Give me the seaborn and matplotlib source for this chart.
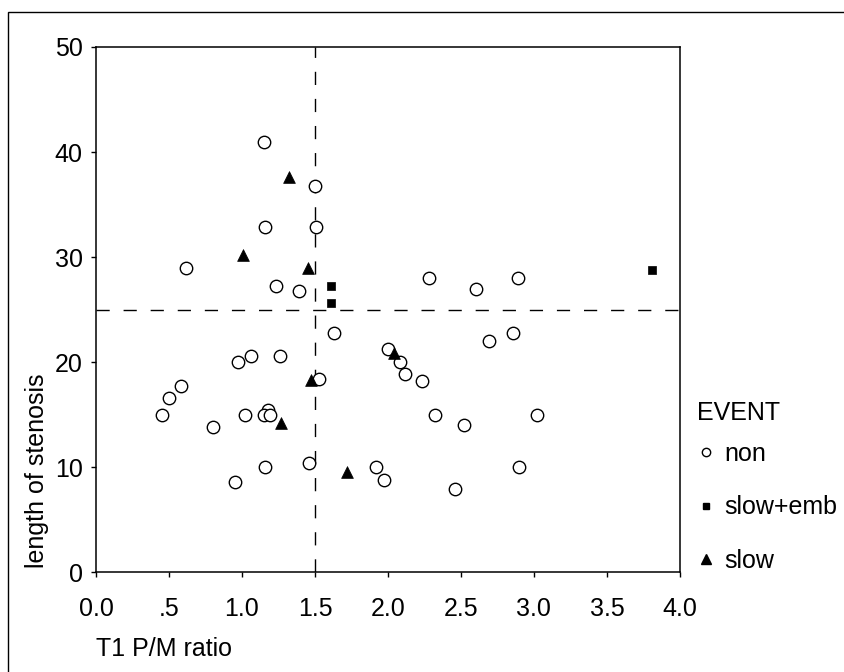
import pandas as pd
import seaborn as sns
import matplotlib.pyplot as plt
from matplotlib.lines import Line2D
from matplotlib.patches import Rectangle

# valores
non_x = [1.15, 1.50, 1.16, 1.51, 0.62, 1.23, 1.39, 1.63, 2.28, 2.60, 2.89,
         0.97, 1.06, 1.26, 1.53, 0.58, 0.50, 0.45, 1.02, 1.18, 1.15, 1.19,
         0.80, 1.16, 1.46, 0.95, 1.92, 1.97, 2.00, 2.08, 2.12, 2.23, 2.69,
         2.86, 2.32, 2.52, 3.02, 2.90, 2.46]
non_y = [41.0, 36.8, 32.9, 32.9, 29.0, 27.3, 26.8, 22.8, 28.0, 27.0, 28.0,
         20.0, 20.6, 20.6, 18.4, 17.7, 16.6, 15.0, 15.0, 15.5, 15.0, 15.0,
         13.8, 10.0, 10.4, 8.6, 10.0, 8.8, 21.3, 20.0, 18.9, 18.2, 22.0,
         22.8, 15.0, 14.0, 15.0, 10.0, 7.9]
emb_x = [1.61, 1.61, 3.81]
emb_y = [27.3, 25.6, 28.8]
slow_x = [1.32, 1.01, 1.45, 1.47, 1.27, 1.72, 2.04]
slow_y = [37.6, 30.2, 29.0, 18.3, 14.2, 9.6, 20.9]

eventos = ['non', 'slow+emb', 'slow']
x_ticks = [0.0, 0.5, 1.0, 1.5, 2.0, 2.5, 3.0, 3.5, 4.0]
x_tick_labels = ['0.0', '.5', '1.0', '1.5', '2.0', '2.5', '3.0', '3.5', '4.0']
y_ticks = [0, 10, 20, 30, 40, 50]
corte_x = 1.5
corte_y = 25

dados = pd.DataFrame({
    'ratio': non_x + emb_x + slow_x,
    'length': non_y + emb_y + slow_y,
    'EVENT': [eventos[0]] * len(non_x) + [eventos[1]] * len(emb_x) + [eventos[2]] * len(slow_x),
})

sns.set_style('ticks', {'text.color': 'black', 'axes.labelcolor': 'black',
                        'xtick.color': 'black', 'ytick.color': 'black',
                        'axes.edgecolor': 'black'})
plt.rcParams['font.family'] = ['Liberation Sans', 'DejaVu Sans']
fs = 18

fig = plt.figure(figsize=(8.44, 6.72), dpi=100)
ax = fig.add_axes([0.1137, 0.1481, 0.6919, 0.7820])

estilos = {
    'non': dict(marker='o', s=80, facecolor='white', edgecolor='black', linewidth=1.0),
    'slow+emb': dict(marker='s', s=34, color='black', edgecolor='black', linewidth=0.5),
    'slow': dict(marker='^', s=72, color='black', edgecolor='black', linewidth=0.5),
}
for ev in eventos:
    sns.scatterplot(x='ratio', y='length', data=dados[dados.EVENT == ev], ax=ax,
                    legend=False, zorder=3, **estilos[ev])

ax.axvline(corte_x, color='black', lw=1.0, ls=(0, (9.5, 10)), zorder=2)
ax.axhline(corte_y, color='black', lw=1.0, ls=(0, (9.5, 10)), zorder=2)

ax.set_xlim(0, 4)
ax.set_ylim(0, 50)
ax.set_xticks(x_ticks)
ax.set_xticklabels(x_tick_labels)
ax.set_yticks(y_ticks)
for s in ax.spines.values():
    s.set_linewidth(1.1)
    s.set_color('black')
ax.tick_params(axis='x', direction='out', length=3.5, width=1, pad=14, labelsize=fs)
ax.tick_params(axis='y', direction='out', length=3.5, width=1, pad=6, labelsize=fs)

ax.set_xlabel('T1 P/M ratio', fontsize=fs, ha='left', va='center')
ax.xaxis.set_label_coords(0.0, -0.146)
ax.set_ylabel('length of stenosis', fontsize=fs, ha='center', va='center')
ax.yaxis.set_label_coords(-0.101, 0.194)

# legenda
fig.text(697 / 844, (672 - 413) / 672, 'EVENT', fontsize=fs, va='center', ha='left')
handles = [
    Line2D([], [], ls='none', marker='o', ms=6, mfc='white', mec='black', mew=1.0),
    Line2D([], [], ls='none', marker='s', ms=4.5, mfc='black', mec='black'),
    Line2D([], [], ls='none', marker='^', ms=7, mfc='black', mec='black'),
]
leg = fig.legend(handles, eventos, loc='upper left',
                 bbox_to_anchor=(0.828, 0.342), frameon=False, fontsize=fs,
                 handlelength=0.6, handletextpad=0.4,
                 labelspacing=1.17, borderpad=0, borderaxespad=0)

# moldura externa
fig.add_artist(Rectangle((8.3 / 844, -0.05), 1.0, (672 - 12.3) / 672 + 0.05,
                         transform=fig.transFigure, fill=False, lw=1.0,
                         edgecolor='black'))

plt.savefig('out.png', dpi=100)
